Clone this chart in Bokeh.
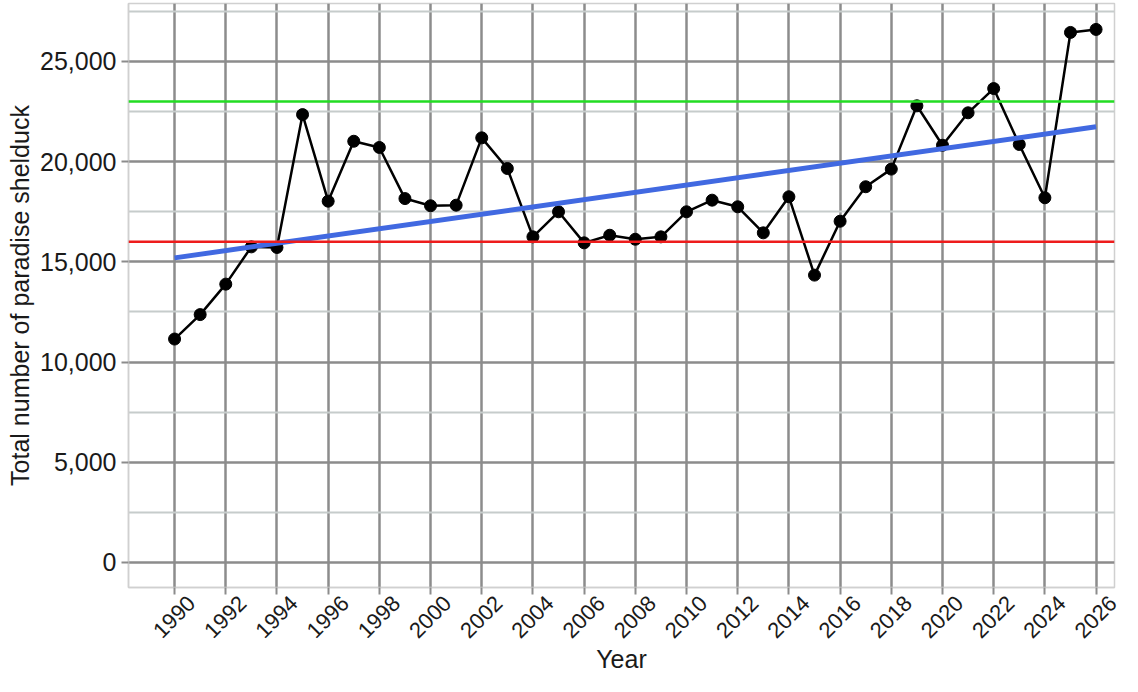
from bokeh.plotting import figure
from bokeh.models import Range1d, FixedTicker, NumeralTickFormatter, Span, LinearAxis
from bokeh.embed import file_html
from bokeh.resources import INLINE

years = list(range(1990, 2027))
counts = [11150, 12370, 13890, 15750, 15720, 22350, 18030, 21020, 20710, 18160,
          17800, 17830, 21190, 19660, 16250, 17500, 15950, 16330, 16130, 16250,
          17500, 18080, 17750, 16450, 18250, 14340, 17030, 18750, 19630, 22790,
          20820, 22440, 23650, 20860, 18200, 26450, 26600]
trend_years = [1990, 2026]
trend_values = [15200, 21740]
lower_ref = 16000
upper_ref = 23000
x_ticks = list(range(1990, 2027, 2))
x_tick_labels = [str(t) for t in x_ticks]
y_ticks = [0, 5000, 10000, 15000, 20000, 25000]
y_minor = [2500, 7500, 12500, 17500, 22500, 27500]

FONT = "Liberation Sans"
X0, X1 = 1988.2, 2026.72
Y0, Y1 = -1248, 27894
LABEL_SHIFT = 0.66  # years: rotated labels centred under their ticks

p = figure(width=1122, height=676, output_backend="svg", toolbar_location=None,
           x_range=Range1d(X0, X1), y_range=Range1d(Y0, Y1),
           min_border_left=128, min_border_right=8, min_border_top=3, min_border_bottom=89)
p.extra_x_ranges = {"lab": Range1d(X0 - LABEL_SHIFT, X1 - LABEL_SHIFT)}

p.background_fill_color = "white"
p.border_fill_color = "white"
p.outline_line_color = "#d0d0d0"
p.outline_line_width = 1.5

p.xaxis.ticker = FixedTicker(ticks=x_ticks, minor_ticks=[])
p.yaxis.ticker = FixedTicker(ticks=y_ticks, minor_ticks=y_minor)
p.yaxis.formatter = NumeralTickFormatter(format="0,0")

p.xgrid.grid_line_color = "#8c8c8c"
p.xgrid.grid_line_width = 2.5
p.ygrid.grid_line_color = "#8c8c8c"
p.ygrid.grid_line_width = 2.5
p.ygrid.minor_grid_line_color = "#c6cccb"
p.ygrid.minor_grid_line_width = 2

def style(ax):
    ax.axis_line_color = "#d0d0d0"
    ax.axis_line_width = 1.5
    ax.major_tick_line_color = "#8c8c8c"
    ax.major_tick_line_width = 2
    ax.major_tick_out = 7
    ax.major_tick_in = 0
    ax.minor_tick_line_color = None
    ax.major_label_text_font = FONT
    ax.major_label_text_font_size = "25px"
    ax.major_label_text_color = "#1a1a1a"
    ax.axis_label_text_font = FONT
    ax.axis_label_text_font_size = "25px"
    ax.axis_label_text_font_style = "normal"
    ax.axis_label_text_color = "#1a1a1a"

style(p.xaxis[0])
style(p.yaxis[0])

# main x axis: ticks only
p.xaxis[0].major_label_overrides = {t: "" for t in x_ticks}
p.xaxis[0].major_label_standoff = 0

# label axis (shifted so the 45-degree labels sit centred below the ticks)
lab = LinearAxis(x_range_name="lab", ticker=FixedTicker(ticks=x_ticks, minor_ticks=[]))
style(lab)
lab.major_label_overrides = dict(zip(x_ticks, x_tick_labels))
lab.major_label_text_font_size = "22px"
lab.axis_line_color = None
lab.major_tick_line_color = None
lab.major_tick_out = 0
lab.major_label_orientation = 0.785398
lab.major_label_standoff = 5
lab.axis_label = "Year"
lab.axis_label_standoff = -3
p.add_layout(lab, "below")

p.yaxis.axis_label = "Total number of paradise shelduck"
p.yaxis.major_label_standoff = 5
p.yaxis.axis_label_standoff = 3

p.line(years, counts, line_color="black", line_width=2.5)
p.scatter(years, counts, size=12, fill_color="black", line_color="black")
p.line(trend_years, trend_values, line_color="#4169e1", line_width=5)

p.add_layout(Span(location=lower_ref, dimension="width", line_color="#ee1c1c", line_width=2.5))
p.add_layout(Span(location=upper_ref, dimension="width", line_color="#22dd22", line_width=2.5))

open("out.html", "w").write(file_html(p, INLINE))
